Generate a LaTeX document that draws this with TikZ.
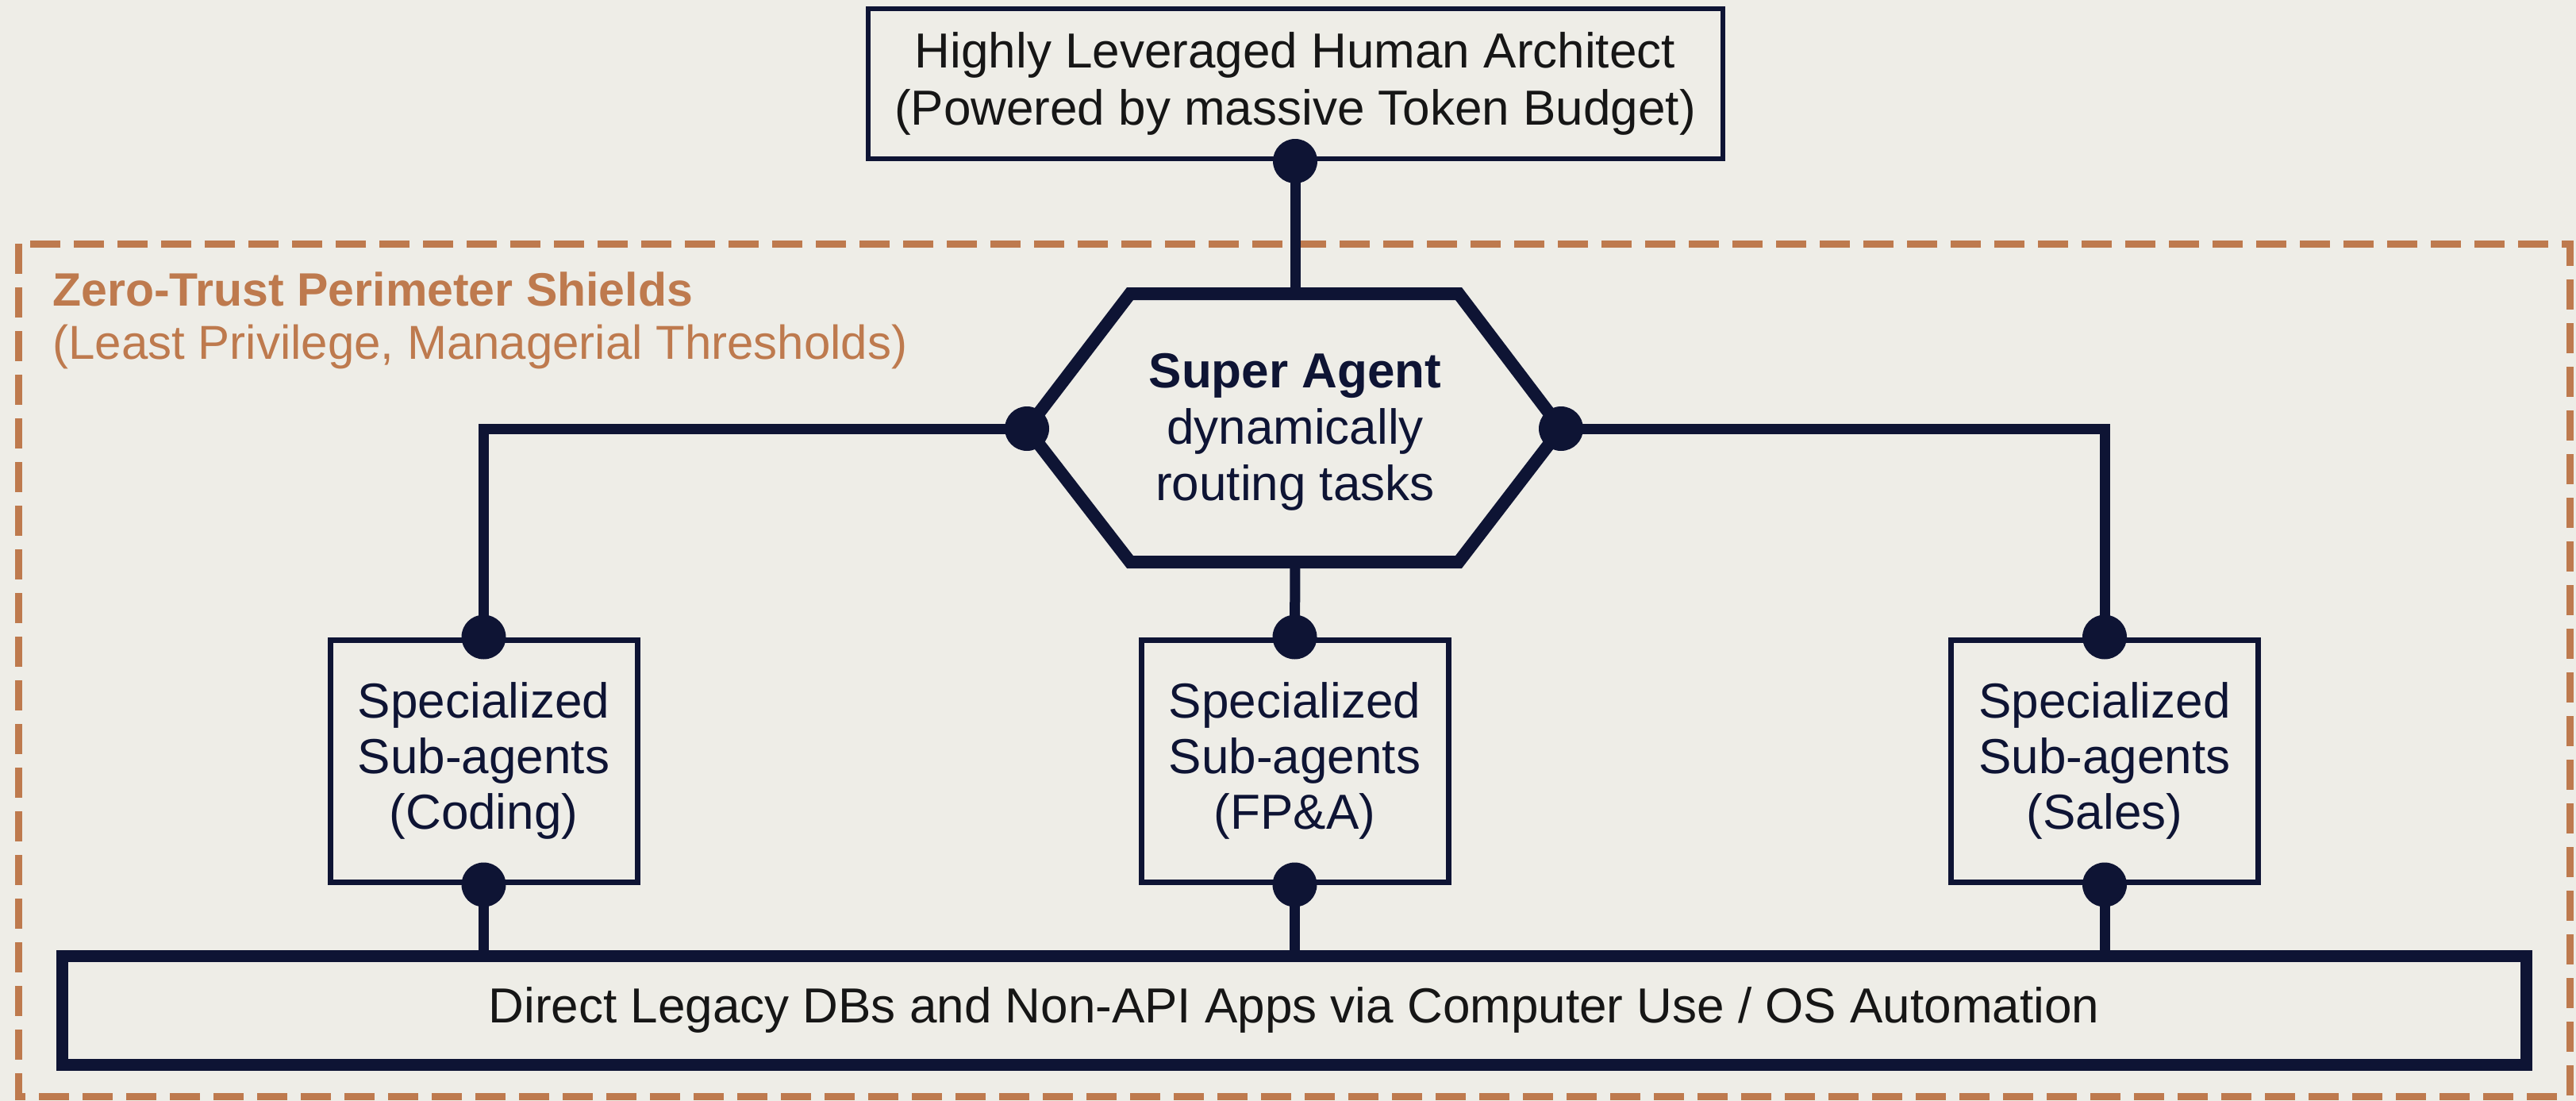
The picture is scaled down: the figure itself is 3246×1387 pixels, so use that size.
\documentclass[tikz,border=0pt]{standalone}
\usepackage{fontspec}
\setmainfont{Liberation Sans}
\definecolor{bg}{HTML}{EEEDE7}
\definecolor{navy}{HTML}{0E1434}
\definecolor{rust}{HTML}{BE7A4E}
\definecolor{ink}{HTML}{161616}
\begin{document}
\begin{tikzpicture}[x=0.5pt,y=-0.5pt,
  txt/.style={font=\fontsize{31}{35}\selectfont, text=navy, align=center, inner sep=0pt},
  subbox/.style={draw=navy, line width=3.5pt, inner sep=0pt, minimum width=193.5pt, minimum height=152.5pt, txt},
  wire/.style={draw=navy, line width=6.5pt},
  jdot/.style={fill=navy},
  rusttxt/.style={text=rust, anchor=west, inner sep=0pt}]
\fill[bg] (0,0) rectangle (3246,1387);
\useasboundingbox (0,0) rectangle (3246,1387);

% perimeter
\draw[rust, line width=4.5pt, dash pattern=on 19pt off 8.5pt] (23,307) rectangle (3238,1381);
\node[rusttxt, font=\bfseries\fontsize{29.5}{34}\selectfont] (zt) at (66,364) {Zero-Trust Perimeter Shields};
\node[rusttxt, font=\fontsize{30}{34}\selectfont] (lp) at (66,437) {(Least Privilege, Managerial Thresholds)};

% top box
\node[draw=navy, line width=3pt, minimum width=538.5pt, minimum height=94.5pt, inner sep=0pt, align=center,
  font=\fontsize{31}{36}\selectfont, text=ink] (arch) at (1632,105.5)
  {Highly Leveraged Human Architect\\(Powered by massive Token Budget)};

% hexagon
\coordinate (hTL) at (1424,370);
\coordinate (hT) at (1632,370);
\coordinate (hTR) at (1838,370);
\coordinate (hR) at (1967,540);
\coordinate (hBR) at (1838,708);
\coordinate (hB) at (1632,708);
\coordinate (hBL) at (1424,708);
\coordinate (hL) at (1294,540);
\draw[navy, line width=8pt, line join=miter] (hTL) -- (hTR) -- (hR) -- (hBR) -- (hBL) -- (hL) -- cycle;
\node[txt, font=\fontsize{31}{35.5}\selectfont] (sa) at (1632,544) {{\bfseries Super Agent}\\dynamically\\routing tasks};

% sub-agent boxes
\node[subbox] (cod) at (609.5,958.5) {Specialized\\Sub-agents\\(Coding)};
\node[subbox] (fpa) at (1631.5,958.5) {Specialized\\Sub-agents\\(FP\&A)};
\node[subbox] (sal) at (2652,958.5) {Specialized\\Sub-agents\\(Sales)};

% bottom box
\node[draw=navy, line width=7.5pt, minimum width=1552.5pt, minimum height=68.5pt, inner sep=0pt,
  font=\fontsize{31}{35}\selectfont, text=ink] (legacy) at (1630.5,1272.5)
  {Direct Legacy DBs and Non-API Apps via Computer Use / OS Automation};

% wires
\draw[wire] (arch.south) -- (hT);
\draw[wire] (hL) -| (cod.north);
\draw[wire] (hR) -| (sal.north);
\draw[wire] (hB) -- (fpa.north);
\draw[wire] (cod.south) -- (cod.south |- legacy.north);
\draw[wire] (fpa.south) -- (fpa.south |- legacy.north);
\draw[wire] (sal.south) -- (sal.south |- legacy.north);

% junction dots
\foreach \p in {arch.south, hL, hR, cod.north, fpa.north, sal.north, cod.south, fpa.south, sal.south}
  \fill[jdot] (\p) circle (14pt);
\end{tikzpicture}
\end{document}
